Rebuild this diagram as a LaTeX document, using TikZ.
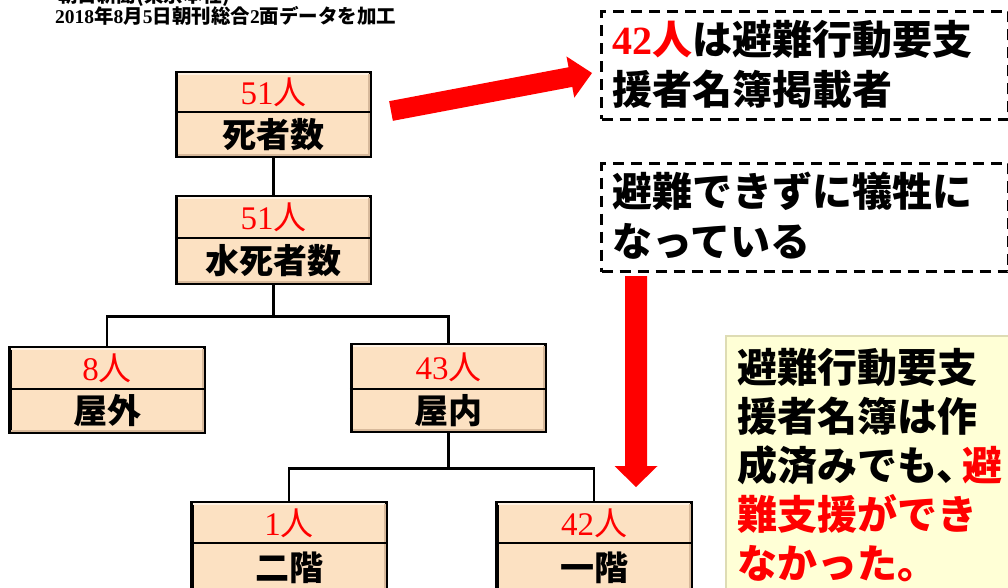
\documentclass[tikz,border=0pt]{standalone}
\usepackage{fontspec}
\setmainfont{Noto Sans CJK JP}
\newfontfamily\lser{Liberation Serif}
\newcommand{\dg}[1]{{\lser #1}}
\usetikzlibrary{calc}
\definecolor{peach}{RGB}{252,225,194}
\definecolor{peachhi}{RGB}{255,242,228}
\definecolor{peachlo}{RGB}{215,185,155}
\definecolor{lyellow}{RGB}{255,255,214}
\definecolor{lyedge}{RGB}{222,220,180}
\definecolor{ared}{RGB}{255,0,0}
\tikzset{
  x=1pt, y=-1pt,
  obox/.style={draw=black, line width=3.2pt, fill=peach, minimum width=194pt, inner sep=0pt, anchor=north},
  divline/.style={line width=1.2pt},
  hiline/.style={line width=2pt, draw=peachhi},
  loline/.style={line width=2pt, draw=peachlo},
  conn/.style={draw=black, line width=2.8pt},
  numtxt/.style={text=ared, font=\fontsize{33}{33}\selectfont, inner sep=0pt},
  lbltxt/.style={text=black, font=\fontsize{34}{34}\selectfont\bfseries, inner sep=0pt},
  dbox/.style={draw=black, line width=3pt, dash pattern=on 11pt off 7pt, anchor=north west, inner sep=0pt},
  ybox/.style={draw=lyedge, line width=1.5pt, fill=lyellow, anchor=north west, inner sep=0pt},
  bigtxt/.style={font=\fontsize{40}{50}\selectfont\bfseries, align=left, anchor=north west, inner sep=0pt},
  notetxt/.style={font=\fontsize{40}{49}\selectfont\bfseries, align=left, anchor=north west, inner sep=0pt},
  hdr/.style={font=\fontsize{19.5}{19.5}\selectfont\bfseries, anchor=base west, inner sep=0pt},
  redarrow/.style={fill=ared, draw=none},
}
\newcommand{\OrgBox}[7]{%
  \node[obox, minimum height={(#5-#3)*1pt}] (#1) at (#2,#3) {};
  \draw[hiline] ([xshift=3pt,yshift=-3pt]#1.north west) -- ([xshift=-3pt,yshift=-3pt]#1.north east);
  \draw[loline] ([xshift=-3pt,yshift=-3pt]#1.north east) -- ([xshift=-3pt,yshift=3pt]#1.south east) -- ([xshift=3pt,yshift=3pt]#1.south west);
  \draw[divline] (#1.west |- 0,#4) -- (#1.east |- 0,#4);
  \node[numtxt] (#1num) at (#2,{(#3+#4)/2+1}) {\dg{#6}人};
  \node[lbltxt] (#1lbl) at (#2,{(#4+#5)/2+1}) {#7};
}
\begin{document}
\begin{tikzpicture}
\useasboundingbox[fill=white] (0,0) rectangle (1008,588);

% header
\node[hdr] (src) at (58,3) {朝日新聞(東京本社)};
\node[hdr] (srcdate) at (55,24) {\dg{2018}年\dg{8}月\dg{5}日朝刊総合\dg{2}面データを加工};

% org boxes
\OrgBox{dead}{273.5}{71}{112}{155}{51}{死者数}
\OrgBox{drown}{273.5}{195}{238}{282}{51}{水死者数}
\OrgBox{out}{107}{346}{389}{431}{8}{屋外}
\OrgBox{in}{448.5}{343}{389}{430}{43}{屋内}
\OrgBox{second}{289}{501}{543}{590}{1}{二階}
\OrgBox{first}{594}{501}{543}{590}{42}{一階}

\draw[conn] (dead.south) -- (drown.north);
\draw[conn] (drown.south) -- ++(0,31) -| (out.north);
\draw[conn] (drown.south) -- ++(0,31) -| (in.north);
\draw[conn] (in.south) -- ++(0,35) -| (second.north);
\draw[conn] (in.south) -- ++(0,35) -| (first.north);

% dashed boxes
\node[dbox, minimum width=407pt, minimum height=108pt] (d1) at (600,10) {};
\node[bigtxt] (d1txt) at (612,20) {{\color{ared}\dg{42}人}は避難行動要支\\援者名簿掲載者};
\node[dbox, minimum width=407pt, minimum height=108pt] (d2) at (600,162) {};
\node[bigtxt] (d2txt) at (612,172) {避難できずに犠牲に\\なっている};

% yellow note
\node[ybox, minimum width=300pt, minimum height=270pt] (note) at (725,335) {};
\node[notetxt] (notetxt) at (737,348) {避難行動要支\\援者名簿は作\\成済みでも、\kern-14pt{\color{ared}避}\\{\color{ared}難支援ができ}\\{\color{ared}なかった。}};

% arrow 1
\coordinate (a1s) at (391,111);
\coordinate (a1e) at (592,73);
\coordinate (a1h) at ($(a1e)!22pt!(a1s)$);
\fill[redarrow] ($(a1s)!10pt!90:(a1e)$) -- ($(a1h)!10pt!-90:(a1s)$) -- ($(a1h)!21pt!-90:(a1s)$) -- (a1e)
  -- ($(a1h)!21pt!90:(a1s)$) -- ($(a1h)!10pt!90:(a1s)$) -- ($(a1s)!10pt!-90:(a1e)$) -- cycle;

% arrow 2
\coordinate (a2s) at (636,276);
\coordinate (a2e) at (636,487);
\coordinate (a2h) at ($(a2e)!21pt!(a2s)$);
\fill[redarrow] ($(a2s)!11pt!90:(a2e)$) -- ($(a2h)!11pt!-90:(a2s)$) -- ($(a2h)!21.5pt!-90:(a2s)$) -- (a2e)
  -- ($(a2h)!21.5pt!90:(a2s)$) -- ($(a2h)!11pt!90:(a2s)$) -- ($(a2s)!11pt!-90:(a2e)$) -- cycle;
\end{tikzpicture}
\end{document}
